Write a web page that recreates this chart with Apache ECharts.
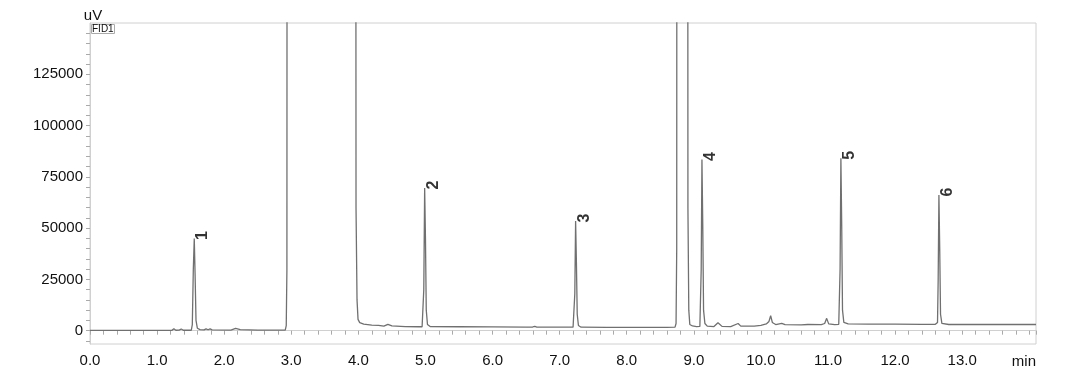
<!DOCTYPE html>
<html>
<head>
<meta charset="utf-8">
<script src="https://cdn.jsdelivr.net/npm/echarts@6/dist/echarts.min.js"></script>
<style>html,body{margin:0;padding:0;background:#fff}#c{width:1080px;height:381px}</style>
</head>
<body>
<div id="c"></div>
<script>
// ---- data (time in min, signal in uV) ----
const segStart = [[0,100],[1.0,100],[1.22,150],[1.25,900],[1.28,200],[1.33,250],[1.36,800],[1.39,200],[1.51,200]];
const peak1 = [[1.525,3000],[1.54,30000],[1.554,44900],[1.566,28000],[1.58,5000],[1.60,1200],[1.64,500]];
const segA = [[1.70,400],[1.73,900],[1.76,450],[1.79,900],[1.82,400],[2.10,300],[2.17,1100],[2.24,500],[2.5,300],[2.8,250],[2.91,300]];
const solvent = [[2.925,2500],[2.935,30000],[2.945,1000000],[3.95,1000000],[3.965,60000],[3.98,15000],[3.995,5500],[4.02,3900],[4.08,3200],[4.2,2700],[4.3,2600],[4.38,2200],[4.44,3100],[4.5,2300],[4.7,2000],[4.9,1900],[4.95,1900]];
const peak2 = [[4.965,2500],[4.975,20000],[4.988,69500],[5.0,45000],[5.012,10000],[5.03,3000],[5.07,2000]];
const segB = [[5.5,1900],[6.0,1850],[6.5,1750],[6.6,1800],[6.63,2100],[6.66,1750],[7.0,1700],[7.2,1700]];
const peak3 = [[7.215,2300],[7.226,18000],[7.238,53500],[7.25,33000],[7.262,8000],[7.28,2500],[7.32,1700]];
const segC = [[7.7,1600],[7.72,1800],[7.75,1600],[8.2,1650],[8.6,1650],[8.72,1700]];
const bigPeak = [[8.735,3500],[8.745,40000],[8.755,1000000],[8.9,1000000],[8.912,60000],[8.925,10000],[8.94,3000],[8.98,2300],[9.04,2000],[9.09,2100]];
const peak4 = [[9.1,3000],[9.11,30000],[9.121,83500],[9.133,52000],[9.145,10000],[9.165,3500],[9.2,2200]];
const segD = [[9.3,2000],[9.36,3900],[9.42,2100],[9.55,2000],[9.66,3500],[9.7,2200],[9.9,2200],[10.0,2600],[10.08,3300],[10.12,4500],[10.145,7300],[10.17,4000],[10.22,3000],[10.31,3600],[10.36,2900],[10.6,2800],[10.7,3000],[10.9,2900],[10.95,3500],[10.98,6000],[11.01,3300],[11.1,2900],[11.16,3100]];
const peak5 = [[11.17,4000],[11.18,30000],[11.192,84000],[11.204,52000],[11.216,10000],[11.236,4000],[11.3,3300]];
const segE = [[11.6,3200],[12.0,3200],[12.4,3100],[12.6,3100]];
const peak6 = [[12.632,4000],[12.642,25000],[12.653,66100],[12.665,40000],[12.677,8000],[12.697,3600]];
const segEnd = [[12.8,3000],[13.5,3000],[14.1,3000]];

const peakLabels = ['1','2','3','4','5','6'];
const peakTimes = [1.554, 4.988, 7.238, 9.121, 11.192, 12.653];
const peakHeights = [44900, 69500, 53500, 83500, 84000, 66100];

const yLabelValues = [0, 25000, 50000, 75000, 100000, 125000];
const yTickValues = [-5000,0,5000,10000,15000,20000,25000,30000,35000,40000,45000,50000,55000,60000,65000,70000,75000,80000,85000,90000,95000,100000,105000,110000,115000,120000,125000,130000,135000,140000,145000];

const trace = [].concat(segStart, peak1, segA, solvent, peak2, segB, peak3, segC, bigPeak, peak4, segD, peak5, segE, peak6, segEnd);
const labelPts = peakTimes.map((t, i) => ({ value: [t, peakHeights[i]], name: peakLabels[i] }));

const FONT = 'Arial, "Liberation Sans", sans-serif';
const chart = echarts.init(document.getElementById('c'), null, { renderer: 'canvas' });
chart.setOption({
  animation: false,
  backgroundColor: '#fff',
  title: {
    text: 'FID1', left: 91, top: 24,
    padding: [0, 1, 0, 1],
    borderWidth: 1, borderColor: '#aaa',
    textStyle: { fontFamily: FONT, fontSize: 10, fontWeight: 'normal', color: '#111', lineHeight: 10 }
  },
  grid: { left: 90, right: 44, top: 23, bottom: 37, show: true, borderColor: '#d0d0d0', borderWidth: 1 },
  xAxis: {
    type: 'value', min: 0, max: 14.1, interval: 1,
    name: 'min', nameLocation: 'end', nameGap: 0,
    nameTextStyle: { fontFamily: FONT, fontSize: 15, color: '#111', align: 'right', verticalAlign: 'top', padding: [24, 0, 0, 0] },
    axisLine: { show: true, lineStyle: { color: '#d0d0d0', width: 1 } },
    axisTick: { show: true, length: 4, lineStyle: { color: '#aaa' } },
    minorTick: { show: true, splitNumber: 5, length: 4, lineStyle: { color: '#aaa' } },
    splitLine: { show: false },
    axisLabel: {
      fontFamily: FONT, fontSize: 15, color: '#111', margin: 9,
      formatter: v => (v > 13.5 ? '' : v.toFixed(1))
    }
  },
  yAxis: {
    type: 'value', min: -6500, max: 150000,
    name: 'uV', nameLocation: 'end', nameGap: 0,
    nameTextStyle: { fontFamily: FONT, fontSize: 15, color: '#111', align: 'center', padding: [0, 0, 0, 6] },
    axisLine: { show: true, lineStyle: { color: '#d0d0d0', width: 1 } },
    axisTick: { show: true, length: 4, lineStyle: { color: '#aaa' }, customValues: yTickValues },
    splitLine: { show: false },
    axisLabel: { fontFamily: FONT, fontSize: 15, color: '#111', margin: 7, customValues: yLabelValues, formatter: v => String(v) }
  },
  series: [
    {
      type: 'line', data: trace, showSymbol: false, clip: true, sampling: null,
      lineStyle: { color: '#707070', width: 1.3 }, z: 2
    },
    {
      type: 'scatter', data: labelPts, symbolSize: 1, itemStyle: { color: 'transparent' }, z: 3,
      label: {
        show: true, formatter: p => p.name, position: [1, 2], rotate: 90,
        align: 'left', verticalAlign: 'top',
        fontFamily: FONT, fontSize: 16, fontWeight: 'bold', color: '#000'
      }
    }
  ]
});
</script>
</body>
</html>
